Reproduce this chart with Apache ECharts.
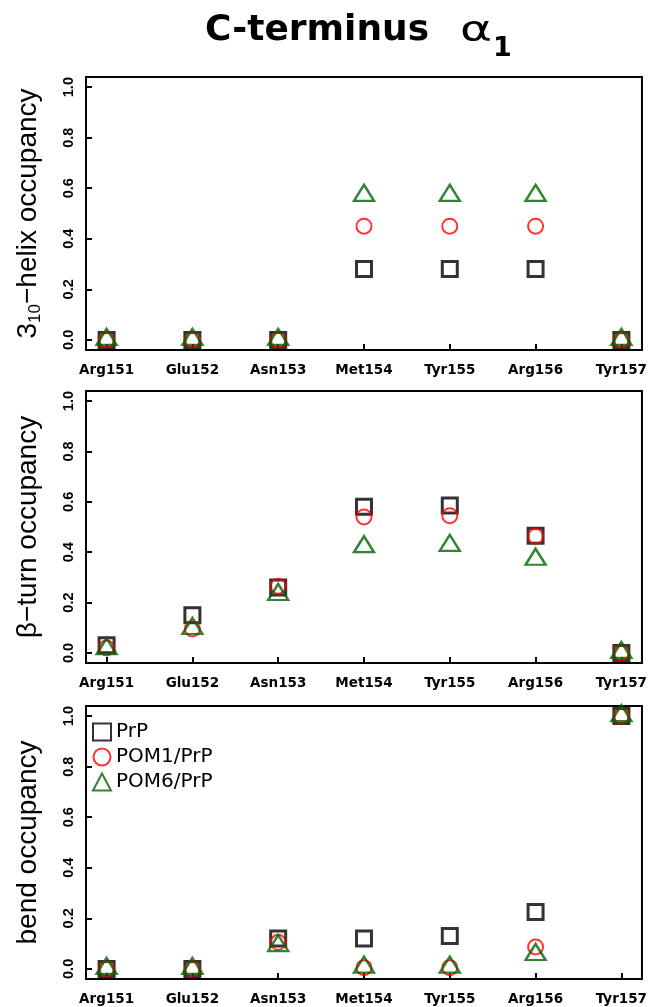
<!DOCTYPE html>
<html>
<head>
<meta charset="utf-8">
<script src="https://cdn.jsdelivr.net/npm/echarts@6/dist/echarts.min.js"></script>
<style>html,body{margin:0;padding:0;background:#fff}#c{width:650px;height:1007px}</style>
</head>
<body>
<div id="c"></div>
<script>
const categories = ['Arg151','Glu152','Asn153','Met154','Tyr155','Arg156','Tyr157'];
const yTicks = [0, 0.2, 0.4, 0.6, 0.8, 1.0];
const seriesNames = ['PrP', 'POM1/PrP', 'POM6/PrP'];

const helixPrP  = [0, 0, 0, 0.28, 0.28, 0.28, 0];
const helixPOM1 = [0, 0, 0, 0.45, 0.45, 0.45, 0];
const helixPOM6 = [0, 0, 0, 0.57, 0.57, 0.57, 0];

const turnPrP  = [0.03, 0.15, 0.26, 0.58, 0.585, 0.465, 0];
const turnPOM1 = [0.02, 0.095, 0.265, 0.54, 0.545, 0.463, 0];
const turnPOM6 = [0.015, 0.095, 0.23, 0.42, 0.425, 0.37, 0];

const bendPrP  = [0, 0, 0.12, 0.12, 0.13, 0.225, 1];
const bendPOM1 = [0, 0, 0.105, 0.005, 0.005, 0.087, 1];
const bendPOM6 = [0, 0, 0.09, 0.005, 0.005, 0.055, 1];

const panels = [
  {name: '{n|3}{s|10}{n|\u2212helix occupancy}', data: [helixPrP, helixPOM1, helixPOM6]},
  {name: '{n|\u03b2\u2212turn occupancy}', data: [turnPrP, turnPOM1, turnPOM6]},
  {name: '{n|bend occupancy}', data: [bendPrP, bendPOM1, bendPOM6]}
];

const gridTops = [77, 391, 706];
const gridHeights = [273, 272, 273];
const catIdx = categories.map((c, i) => i);

const styles = [
  {symbol: 'rect', symbolSize: 15, symbolOffset: [0, 0], itemStyle: {color: 'rgba(0,0,0,0)', borderColor: '#000000', borderWidth: 3}},
  {symbol: 'circle', symbolSize: 15, symbolOffset: [0, 0], itemStyle: {color: 'rgba(0,0,0,0)', borderColor: '#ff0000', borderWidth: 2}},
  {symbol: 'triangle', symbolSize: [20, 16], symbolOffset: [0, -3], itemStyle: {color: 'rgba(0,0,0,0)', borderColor: '#006400', borderWidth: 2.4}}
];

const grids = [], xAxes = [], yAxes = [], series = [];
panels.forEach((p, g) => {
  grids.push({left: 86, right: 8, top: gridTops[g], height: gridHeights[g], show: true,
    borderColor: '#000', borderWidth: 2, backgroundColor: 'rgba(0,0,0,0)', containLabel: false});
  xAxes.push({type: 'value', gridIndex: g, min: -0.24, max: 6.24,
    axisLine: {show: false, onZero: false}, splitLine: {show: false},
    axisTick: {show: true, inside: true, length: 6, lineStyle: {color: '#000', width: 2}, customValues: catIdx},
    axisLabel: {show: true, customValues: catIdx, formatter: v => categories[Math.round(v)],
      color: '#000', fontFamily: 'DejaVu Sans', fontWeight: 'bold', fontSize: 13.5, margin: 13}
  });
  yAxes.push({type: 'value', gridIndex: g, min: -0.04, max: 1.04,
    axisLine: {show: false, onZero: false}, splitLine: {show: false},
    axisTick: {show: true, inside: true, length: 6, lineStyle: {color: '#000', width: 2}, customValues: yTicks},
    axisLabel: {show: true, customValues: yTicks, formatter: v => v.toFixed(1), rotate: 90,
      color: '#000', fontFamily: 'Liberation Sans', fontWeight: 'bold', fontSize: 14.5, margin: 10},
    name: p.name, nameLocation: 'middle', nameRotate: 90, nameGap: 44,
    nameTextStyle: {rich: {
      n: {fontFamily: 'Liberation Sans', fontSize: 28, color: '#000'},
      s: {fontFamily: 'Liberation Sans', fontSize: 17, color: '#000', verticalAlign: 'bottom', padding: [0, 0, -2, 0]}
    }}
  });
  p.data.forEach((vals, k) => {
    series.push(Object.assign({
      type: 'scatter', name: seriesNames[k], xAxisIndex: g, yAxisIndex: g, clip: false,
      data: vals.map((v, i) => [i, v]), z: 2 + k,
      emphasis: {disabled: true}
    }, JSON.parse(JSON.stringify(styles[k]))));
  });
});

const chart = echarts.init(document.getElementById('c'), null, {renderer: 'canvas'});
chart.setOption({
  animation: false,
  backgroundColor: '#fff',
  grid: grids, xAxis: xAxes, yAxis: yAxes, series: series,
  legend: {orient: 'vertical', left: 92, top: 722, padding: 0, itemGap: 5,
    itemWidth: 18, itemHeight: 17, selectedMode: false,
    data: seriesNames,
    textStyle: {fontFamily: 'DejaVu Sans', fontSize: 20, color: '#000', padding: [0, 0, 0, 0]}},
  graphic: [
    {type: 'text', style: {x: 205, y: 31, text: 'C-terminus', font: 'bold 36px "DejaVu Sans"', fill: '#000', verticalAlign: 'middle'}},
    {type: 'text', x: 460, y: 32, scaleX: 1.35, style: {x: 0, y: 0, text: '\u03b1', font: '36px "DejaVu Sans"', fill: '#000', verticalAlign: 'middle'}},
    {type: 'text', style: {x: 493, y: 49, text: '1', font: 'bold 27px "DejaVu Sans"', fill: '#000', verticalAlign: 'middle'}}
  ]
});
</script>
</body>
</html>
